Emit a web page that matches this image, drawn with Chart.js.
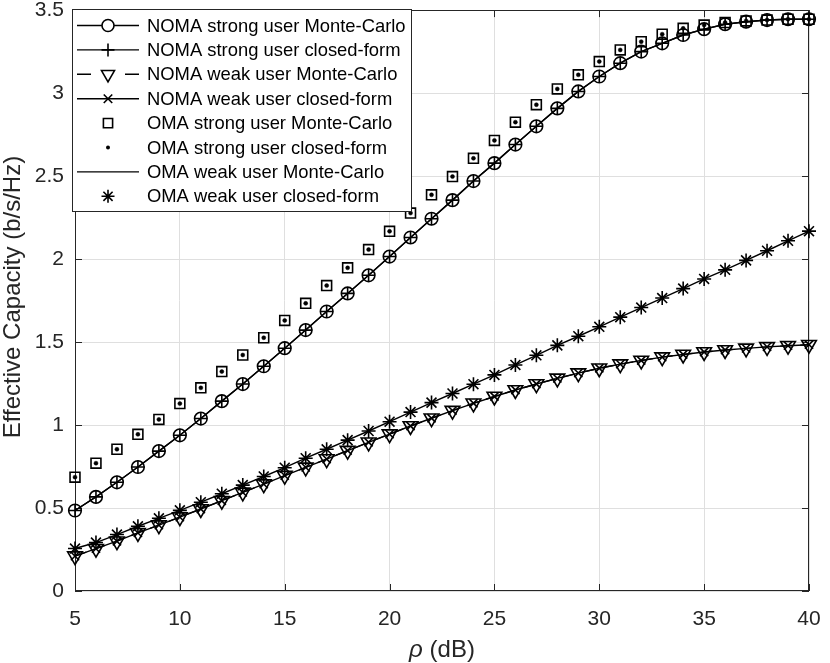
<!DOCTYPE html>
<html>
<head>
<meta charset="utf-8">
<title>Effective Capacity</title>
<script src="https://cdn.jsdelivr.net/npm/chart.js@4.4.1/dist/chart.umd.min.js"></script>
<style>
  html, body { margin: 0; padding: 0; background: #fff; }
  canvas { display: block; }
</style>
</head>
<body>
<canvas id="ec" width="830" height="663"></canvas>
<script>
// values, one entry per dB step
const rhoDb = [5, 6, 7, 8, 9, 10, 11, 12, 13, 14, 15, 16, 17, 18, 19, 20, 21, 22,
               23, 24, 25, 26, 27, 28, 29, 30, 31, 32, 33, 34, 35, 36, 37, 38, 39, 40];

const nomaStrongMonteCarlo = [0.485, 0.567, 0.655, 0.747, 0.843, 0.938, 1.039, 1.144, 1.247, 1.354, 1.463, 1.572,
                              1.684, 1.793, 1.902, 2.015, 2.130, 2.243, 2.355, 2.470, 2.578, 2.690, 2.800, 2.908,
                              3.010, 3.100, 3.180, 3.250, 3.300, 3.350, 3.385, 3.415, 3.430, 3.440, 3.445, 3.445];
const nomaStrongClosedForm = [0.485, 0.567, 0.655, 0.747, 0.843, 0.938, 1.039, 1.144, 1.247, 1.354, 1.463, 1.572,
                              1.684, 1.793, 1.902, 2.015, 2.130, 2.243, 2.355, 2.470, 2.578, 2.690, 2.800, 2.908,
                              3.010, 3.100, 3.180, 3.250, 3.300, 3.350, 3.385, 3.415, 3.430, 3.440, 3.445, 3.445];
const nomaWeakMonteCarlo = [0.210, 0.255, 0.300, 0.350, 0.397, 0.445, 0.494, 0.544, 0.594, 0.644, 0.695, 0.745,
                            0.795, 0.846, 0.896, 0.945, 0.994, 1.041, 1.087, 1.131, 1.172, 1.211, 1.247, 1.281,
                            1.313, 1.342, 1.367, 1.389, 1.409, 1.425, 1.440, 1.452, 1.462, 1.471, 1.478, 1.484];
const nomaWeakClosedForm = [0.210, 0.255, 0.300, 0.350, 0.397, 0.445, 0.494, 0.544, 0.594, 0.644, 0.695, 0.745,
                            0.795, 0.846, 0.896, 0.945, 0.994, 1.041, 1.087, 1.131, 1.172, 1.211, 1.247, 1.281,
                            1.313, 1.342, 1.367, 1.389, 1.409, 1.425, 1.440, 1.452, 1.462, 1.471, 1.478, 1.484];
const omaStrongMonteCarlo = [0.686, 0.770, 0.854, 0.944, 1.034, 1.129, 1.224, 1.322, 1.422, 1.526, 1.630, 1.733,
                             1.840, 1.947, 2.057, 2.167, 2.277, 2.387, 2.497, 2.607, 2.715, 2.825, 2.930, 3.025,
                             3.110, 3.190, 3.260, 3.310, 3.355, 3.390, 3.410, 3.425, 3.435, 3.440, 3.445, 3.445];
const omaStrongClosedForm = [0.686, 0.770, 0.854, 0.944, 1.034, 1.129, 1.224, 1.322, 1.422, 1.526, 1.630, 1.733,
                             1.840, 1.947, 2.057, 2.167, 2.277, 2.387, 2.497, 2.607, 2.715, 2.825, 2.930, 3.025,
                             3.110, 3.190, 3.260, 3.310, 3.355, 3.390, 3.410, 3.425, 3.435, 3.440, 3.445, 3.445];
const omaWeakMonteCarlo = [0.256, 0.292, 0.340, 0.390, 0.438, 0.486, 0.535, 0.586, 0.638, 0.690, 0.743, 0.800,
                           0.854, 0.909, 0.964, 1.020, 1.078, 1.135, 1.190, 1.246, 1.302, 1.362, 1.420, 1.480,
                           1.535, 1.592, 1.650, 1.708, 1.765, 1.822, 1.880, 1.935, 1.992, 2.050, 2.110, 2.168];
const omaWeakClosedForm = [0.256, 0.292, 0.340, 0.390, 0.438, 0.486, 0.535, 0.586, 0.638, 0.690, 0.743, 0.800,
                           0.854, 0.909, 0.964, 1.020, 1.078, 1.135, 1.190, 1.246, 1.302, 1.362, 1.420, 1.480,
                           1.535, 1.592, 1.650, 1.708, 1.765, 1.822, 1.880, 1.935, 1.992, 2.050, 2.110, 2.168];

const xTickValues = [5, 10, 15, 20, 25, 30, 35, 40];
const xTickLabels = ['5', '10', '15', '20', '25', '30', '35', '40'];
const yTickValues = [0, 0.5, 1, 1.5, 2, 2.5, 3, 3.5];
const yTickLabels = ['0', '0.5', '1', '1.5', '2', '2.5', '3', '3.5'];

const seriesNames = [
  'NOMA strong user Monte-Carlo',
  'NOMA strong user closed-form',
  'NOMA weak user Monte-Carlo',
  'NOMA weak user closed-form',
  'OMA strong user Monte-Carlo',
  'OMA strong user closed-form',
  'OMA weak user Monte-Carlo',
  'OMA weak user closed-form'
];

const FONT = '"Liberation Sans", Arial, Helvetica, sans-serif';
const INK = '#262626';

function xy(values) {
  return values.map((v, i) => ({ x: rhoDb[i], y: v }));
}

// shared look for every series
function series(label, values, extra) {
  return Object.assign({
    label: label,
    data: xy(values),
    borderColor: '#000',
    backgroundColor: 'rgba(0,0,0,0)',
    borderWidth: 1.4,
    pointBorderColor: '#000',
    pointBackgroundColor: 'rgba(0,0,0,0)',
    pointBorderWidth: 1.6,
    tension: 0,
    fill: false,
    clip: false
  }, extra);
}

const datasets = [
  series(seriesNames[0], nomaStrongMonteCarlo, { pointStyle: 'circle', pointRadius: 6.3 }),
  series(seriesNames[1], nomaStrongClosedForm, { pointStyle: 'cross', pointRadius: 6.5 }),
  series(seriesNames[2], nomaWeakMonteCarlo, { pointStyle: 'triangle', rotation: 180, pointRadius: 8.5, borderDash: [12, 8] }),
  series(seriesNames[3], nomaWeakClosedForm, { pointStyle: 'crossRot', pointRadius: 5.8 }),
  series(seriesNames[4], omaStrongMonteCarlo, { pointStyle: 'rect', pointRadius: 7, showLine: false }),
  series(seriesNames[5], omaStrongClosedForm, { pointStyle: 'circle', pointRadius: 2, pointBackgroundColor: '#000', pointBorderWidth: 0.5, showLine: false }),
  series(seriesNames[6], omaWeakMonteCarlo, { pointRadius: 0 }),
  series(seriesNames[7], omaWeakClosedForm, { pointStyle: 'star', pointRadius: 7, showLine: false })
];

// legend icons, same shapes as the chart points
function drawMarker(ctx, kind, x, y, r) {
  const d = r * Math.SQRT1_2;
  ctx.beginPath();
  if (kind === 'circle') {
    ctx.arc(x, y, r, 0, Math.PI * 2);
    ctx.fillStyle = '#fff';
    ctx.fill();
    ctx.stroke();
  } else if (kind === 'dot') {
    ctx.arc(x, y, r, 0, Math.PI * 2);
    ctx.fillStyle = '#000';
    ctx.fill();
  } else if (kind === 'cross') {
    ctx.moveTo(x - r, y); ctx.lineTo(x + r, y);
    ctx.moveTo(x, y - r); ctx.lineTo(x, y + r);
    ctx.stroke();
  } else if (kind === 'crossRot') {
    ctx.moveTo(x - d, y - d); ctx.lineTo(x + d, y + d);
    ctx.moveTo(x - d, y + d); ctx.lineTo(x + d, y - d);
    ctx.stroke();
  } else if (kind === 'star') {
    ctx.moveTo(x - r, y); ctx.lineTo(x + r, y);
    ctx.moveTo(x, y - r); ctx.lineTo(x, y + r);
    ctx.moveTo(x - d, y - d); ctx.lineTo(x + d, y + d);
    ctx.moveTo(x - d, y + d); ctx.lineTo(x + d, y - d);
    ctx.stroke();
  } else if (kind === 'rect') {
    ctx.rect(x - d, y - d, 2 * d, 2 * d);
    ctx.stroke();
  } else if (kind === 'triDown') {
    const h = r * Math.sin(Math.PI / 3);
    ctx.moveTo(x, y + r);
    ctx.lineTo(x - h, y - r / 2);
    ctx.lineTo(x + h, y - r / 2);
    ctx.closePath();
    ctx.fillStyle = '#fff';
    ctx.fill();
    ctx.stroke();
  }
}

const legendIcons = [
  { line: 'solid', marker: 'circle', r: 6 },
  { line: 'solid', marker: 'cross', r: 6.5 },
  { line: 'dashed', marker: 'triDown', r: 7.5 },
  { line: 'solid', marker: 'crossRot', r: 6 },
  { line: null, marker: 'rect', r: 6.5 },
  { line: null, marker: 'dot', r: 2 },
  { line: 'solid', marker: null },
  { line: null, marker: 'star', r: 6.5 }
];

const axesFrame = {
  id: 'axesFrame',
  beforeDatasetsDraw(chart) {
    const { ctx, chartArea: a, scales } = chart;
    ctx.save();
    ctx.strokeStyle = INK;
    ctx.lineWidth = 1;
    ctx.strokeRect(Math.round(a.left) + 0.5, Math.round(a.top) + 0.5,
                   Math.round(a.right - a.left) - 1, Math.round(a.bottom - a.top) - 1);
    ctx.beginPath();
    const tl = 7;
    xTickValues.forEach(v => {
      const px = Math.round(scales.x.getPixelForValue(v)) + 0.5;
      ctx.moveTo(px, a.bottom); ctx.lineTo(px, a.bottom - tl);
      ctx.moveTo(px, a.top); ctx.lineTo(px, a.top + tl);
    });
    yTickValues.forEach(v => {
      const py = Math.round(scales.y.getPixelForValue(v)) + 0.5;
      ctx.moveTo(a.left, py); ctx.lineTo(a.left + tl, py);
      ctx.moveTo(a.right, py); ctx.lineTo(a.right - tl, py);
    });
    ctx.stroke();
    ctx.restore();
  },
  afterDraw(chart) {
    const ctx = chart.ctx;
    const a = chart.chartArea;
    ctx.save();

    // axis titles
    ctx.fillStyle = INK;
    ctx.textBaseline = 'middle';
    ctx.font = 'italic 24px ' + FONT;
    const rhoW = ctx.measureText('\u03c1').width;
    ctx.font = '24px ' + FONT;
    const restW = ctx.measureText(' (dB)').width;
    const cx = (a.left + a.right) / 2;
    let sx = cx - (rhoW + restW) / 2;
    ctx.textAlign = 'left';
    ctx.font = 'italic 24px ' + FONT;
    ctx.fillText('\u03c1', sx, 650);
    ctx.font = '24px ' + FONT;
    ctx.fillText(' (dB)', sx + rhoW, 650);

    ctx.translate(13, 297);
    ctx.rotate(-Math.PI / 2);
    ctx.textAlign = 'center';
    ctx.fillText('Effective Capacity (b/s/Hz)', 0, 0);
    ctx.setTransform(1, 0, 0, 1, 0, 0);
    ctx.scale(chart.currentDevicePixelRatio, chart.currentDevicePixelRatio);

    // legend box
    const bx = 72, by = 9, bw = 339, bh = 202;
    ctx.fillStyle = '#fff';
    ctx.fillRect(bx, by, bw, bh);
    ctx.strokeStyle = INK;
    ctx.lineWidth = 1;
    ctx.strokeRect(bx + 0.5, by + 0.5, bw, bh);

    ctx.font = '18.4px ' + FONT;
    ctx.textAlign = 'left';
    ctx.textBaseline = 'middle';
    seriesNames.forEach((name, i) => {
      const y = 25.5 + i * 24.4;
      const icon = legendIcons[i];
      ctx.strokeStyle = '#000';
      ctx.lineWidth = 1.4;
      if (icon.line === 'solid') {
        ctx.beginPath();
        ctx.moveTo(77, y); ctx.lineTo(139, y);
        ctx.stroke();
      } else if (icon.line === 'dashed') {
        ctx.beginPath();
        ctx.moveTo(77, y); ctx.lineTo(91, y);
        ctx.moveTo(125, y); ctx.lineTo(139, y);
        ctx.stroke();
      }
      if (icon.marker) {
        ctx.lineWidth = 1.6;
        drawMarker(ctx, icon.marker, 108, y, icon.r);
      }
      ctx.fillStyle = '#000';
      ctx.fillText(name, 147, y + 1);
    });
    ctx.restore();
  }
};

function fixedX(scale) {
  scale.height = 72;
  scale.paddingLeft = 0; scale.paddingRight = 0; scale.paddingTop = 0; scale.paddingBottom = 0;
}
function fixedY(scale) {
  scale.width = 75;
  scale.paddingLeft = 0; scale.paddingRight = 0; scale.paddingTop = 0; scale.paddingBottom = 0;
}

Chart.defaults.font.family = FONT;

new Chart(document.getElementById('ec'), {
  type: 'line',
  data: { datasets: datasets },
  options: {
    responsive: false,
    animation: false,
    events: [],
    layout: { padding: { left: 0, top: 7, right: 21, bottom: 0 } },
    plugins: { legend: { display: false }, tooltip: { enabled: false } },
    scales: {
      x: {
        type: 'linear',
        min: 5,
        max: 40,
        afterBuildTicks: s => { s.ticks = xTickValues.map(v => ({ value: v })); },
        afterFit: fixedX,
        ticks: {
          color: INK,
          font: { size: 21 },
          padding: 16,
          maxRotation: 0,
          callback: (v, i) => xTickLabels[i]
        },
        grid: { color: '#dfdfdf', lineWidth: 1, drawTicks: false },
        border: { display: false }
      },
      y: {
        type: 'linear',
        min: 0,
        max: 3.5,
        afterBuildTicks: s => { s.ticks = yTickValues.map(v => ({ value: v })); },
        afterFit: fixedY,
        ticks: {
          color: INK,
          font: { size: 21 },
          padding: 11,
          callback: (v, i) => yTickLabels[i]
        },
        grid: { color: '#dfdfdf', lineWidth: 1, drawTicks: false },
        border: { display: false }
      }
    }
  },
  plugins: [axesFrame]
});
</script>
</body>
</html>
